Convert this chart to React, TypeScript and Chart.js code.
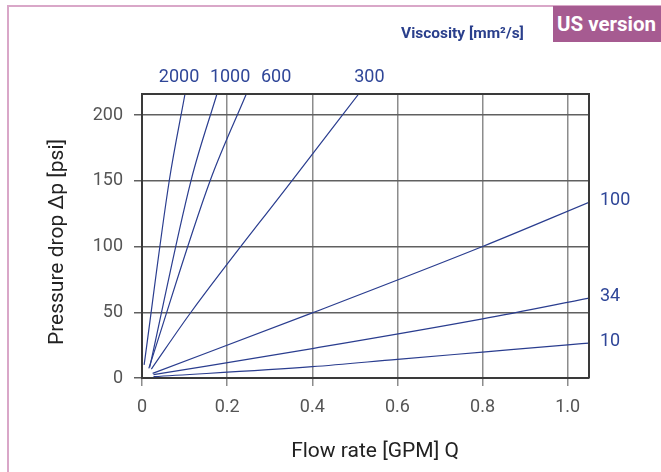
import React, { useEffect, useRef } from "react";
import { Chart, registerables } from "chart.js";

Chart.register(...registerables);

// Viscosity curves [mm²/s]: flow rate Q [GPM] vs pressure drop Δp [psi]
const q2000 = [0.005, 0.064, 0.101];
const dp2000 = [10, 150, 216];
const q1000 = [0.018, 0.115, 0.176];
const dp1000 = [8, 150, 216];
const q600 = [0.016, 0.16, 0.245];
const dp600 = [7.3, 150, 216];
const q300 = [0.022, 0.115, 0.352, 0.509];
const dp300 = [6.8, 50, 150, 216];
const q100 = [0.025, 0.4, 0.8, 1.05];
const dp100 = [3.5, 49.5, 100, 133.6];
const q34 = [0.027, 0.4, 0.8, 1.05];
const dp34 = [2.5, 22.4, 45, 60.8];
const q10 = [0.027, 0.4, 0.6, 0.8, 1.0, 1.05];
const dp10 = [1, 8.6, 14.2, 19.7, 25.2, 26.6];

const topLabels = ["2000", "1000", "600", "300"];
const topLabelQ = [0.087, 0.207, 0.315, 0.534];
const rightLabels = ["100", "34", "10"];

const xTicks = [0, 0.2, 0.4, 0.6, 0.8, 1.0];
const yTicks = [0, 50, 100, 150, 200];

const X_MAX = 1.05;
const Y_MAX = 216;

const BLUE_LINE = "#2a3d8f";
const BLUE_TEXT = "#2f4698";

function pts(xs: number[], ys: number[]) {
  return xs.map((x, i) => ({ x, y: ys[i] }));
}

export default function App() {
  const ref = useRef<HTMLCanvasElement | null>(null);

  useEffect(() => {
    if (!ref.current) return;
    const series = [
      pts(q2000, dp2000),
      pts(q1000, dp1000),
      pts(q600, dp600),
      pts(q300, dp300),
      pts(q100, dp100),
      pts(q34, dp34),
      pts(q10, dp10),
    ];
    const labelsPlugin = {
      id: "labelsPlugin",
      afterDraw(chart: any) {
        const { ctx, chartArea, scales } = chart;
        const xs = scales.x;
        const ys = scales.y;
        ctx.save();
        // top & right frame
        ctx.strokeStyle = "#3a3a3a";
        ctx.lineWidth = 2;
        ctx.beginPath();
        ctx.moveTo(chartArea.left, chartArea.top);
        ctx.lineTo(chartArea.right, chartArea.top);
        ctx.lineTo(chartArea.right, chartArea.bottom);
        ctx.stroke();
        // curve labels
        ctx.fillStyle = BLUE_TEXT;
        ctx.font = "18px Roboto";
        ctx.textAlign = "center";
        ctx.textBaseline = "middle";
        topLabels.forEach((t, i) => {
          ctx.fillText(t, xs.getPixelForValue(topLabelQ[i]), chartArea.top - 17);
        });
        ctx.textAlign = "left";
        const ends = [dp100[dp100.length - 1], dp34[dp34.length - 1], dp10[dp10.length - 1]];
        rightLabels.forEach((t, i) => {
          ctx.fillText(t, chartArea.right + 11, ys.getPixelForValue(ends[i]) - 2);
        });
        // axis titles
        ctx.fillStyle = "#222";
        ctx.font = "21px Roboto";
        ctx.textAlign = "center";
        ctx.fillText("Flow rate [GPM] Q", 375, 452);
        ctx.translate(58, 242);
        ctx.rotate(-Math.PI / 2);
        ctx.fillText("Pressure drop Δp [psi]", 0, 0);
        ctx.restore();
      },
    };
    const chart = new Chart(ref.current, {
      type: "scatter",
      data: {
        datasets: series.map((d) => ({
          data: d,
          showLine: true,
          borderColor: BLUE_LINE,
          borderWidth: 1.2,
          pointRadius: 0,
          fill: false,
          cubicInterpolationMode: "monotone",
        })),
      },
      options: {
        responsive: false,
        animation: false,
        devicePixelRatio: 1,
        layout: { padding: { top: 94, right: 72, left: 0, bottom: 0 } },
        plugins: { legend: { display: false }, tooltip: { enabled: false } },
        scales: {
          x: {
            type: "linear",
            min: 0,
            max: X_MAX,
            afterBuildTicks: (s: any) => {
              s.ticks = xTicks.map((v) => ({ value: v }));
            },
            afterFit: (s: any) => {
              s.height = 94;
            },
            ticks: {
              font: { family: "Roboto", size: 18 },
              color: "#555",
              padding: 11,
              callback: (v: any) => (Number(v) === 0 ? "0" : Number(v).toFixed(1)),
            },
            grid: { color: "#8c8c8c", lineWidth: 1.5, tickLength: 8 },
            border: { color: "#3a3a3a", width: 2 },
          },
          y: {
            type: "linear",
            min: 0,
            max: Y_MAX,
            afterBuildTicks: (s: any) => {
              s.ticks = yTicks.map((v) => ({ value: v }));
            },
            afterFit: (s: any) => {
              s.width = 142;
            },
            ticks: {
              font: { family: "Roboto", size: 18 },
              color: "#555",
              padding: 11,
            },
            grid: { color: "#606060", lineWidth: 1.5, tickLength: 8 },
            border: { color: "#3a3a3a", width: 2 },
          },
        },
      },
      plugins: [labelsPlugin],
    } as any);
    return () => chart.destroy();
  }, []);

  return (
    <div
      style={{
        position: "absolute",
        left: 0,
        top: 0,
        width: 661,
        height: 472,
        overflow: "hidden",
        background: "#fff",
        fontFamily: "Roboto, sans-serif",
      }}
    >
      <div
        style={{
          position: "absolute",
          left: 7,
          top: 5,
          width: 700,
          height: 600,
          borderLeft: "2px solid #d9a7c8",
          borderTop: "2px solid #d9a7c8",
        }}
      />
      <canvas
        ref={ref}
        width={661}
        height={472}
        style={{ position: "absolute", left: 0, top: 0, width: 661, height: 472 }}
      />
      <div
        style={{
          position: "absolute",
          left: 553,
          top: 7,
          width: 108,
          height: 36,
          background: "#a65b91",
          color: "#fff",
          fontWeight: 700,
          fontSize: 20.5,
          lineHeight: "36px",
          paddingLeft: 4,
          boxSizing: "border-box",
          whiteSpace: "nowrap",
          overflow: "hidden",
          marginTop: -1,
        }}
      >
        US version
      </div>
      <div
        style={{
          position: "absolute",
          left: 401,
          top: 23,
          color: "#2a3f8c",
          fontWeight: 700,
          fontSize: 15.5,
          lineHeight: "20px",
          whiteSpace: "nowrap",
        }}
      >
        Viscosity [mm²/s]
      </div>
    </div>
  );
}
